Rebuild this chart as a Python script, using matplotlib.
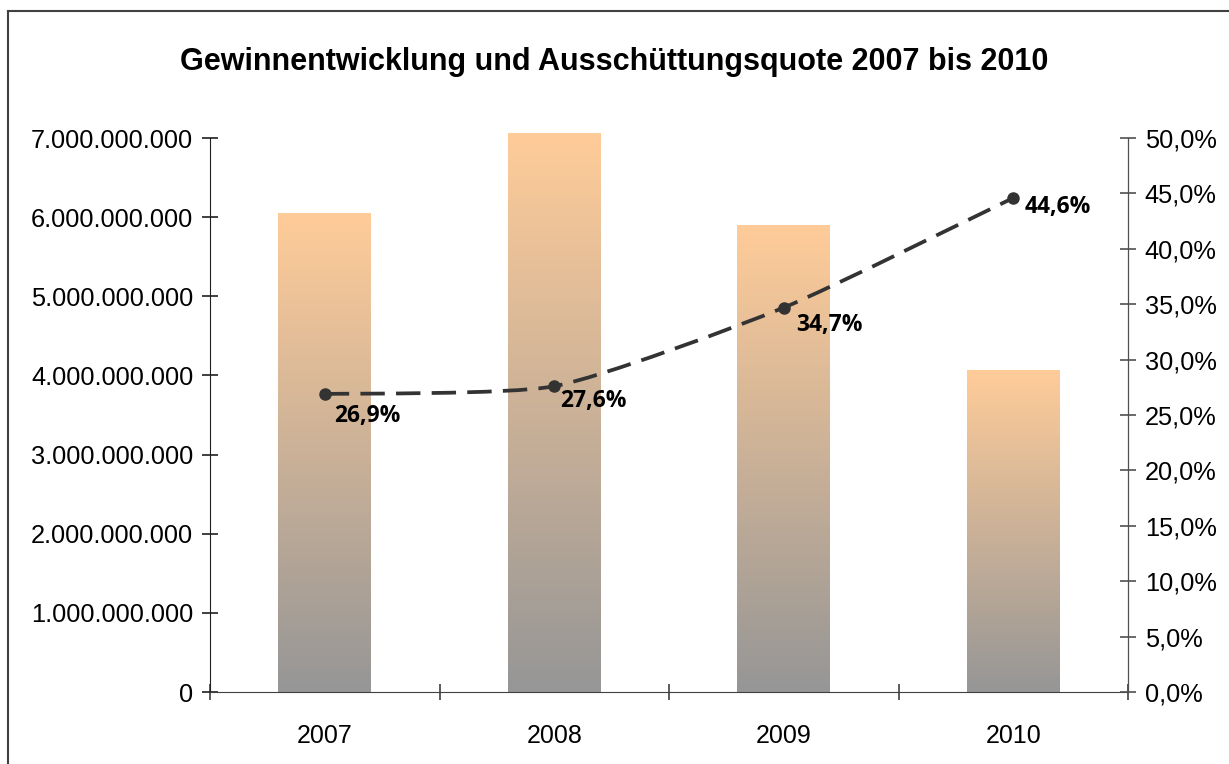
import matplotlib.pyplot as plt
import numpy as np
from matplotlib.path import Path
from matplotlib.patches import PathPatch
from matplotlib.lines import Line2D
from matplotlib.ticker import FuncFormatter

# Daten
jahre = ["2007", "2008", "2009", "2010"]
gewinn = [6.05e9, 7.06e9, 5.89e9, 4.06e9]
quote = [26.9, 27.6, 34.7, 44.6]
quote_labels = ["26,9%", "27,6%", "34,7%", "44,6%"]

plt.rcParams['font.family'] = ['Liberation Sans', 'DejaVu Sans']

fig = plt.figure(figsize=(12.29, 7.64), dpi=100)
ax = fig.add_axes([0.1709, 0.0942, 0.7470, 0.7251])
ax2 = ax.twinx()

x = np.arange(len(jahre))
bar_w = 0.405

# Balken mit Farbverlauf (unten grau, oben pfirsich)
top_col = np.array([255, 204, 153]) / 255
bot_col = np.array([150, 150, 150]) / 255
grad = np.linspace(0, 1, 256)[:, None]
grad_img = bot_col[None, None, :] * (1 - grad[..., None]) + top_col[None, None, :] * grad[..., None]

bars = ax.bar(x, gewinn, width=bar_w, color='none', edgecolor='none', clip_on=False)
for b in bars:
    x0, w, h = b.get_x(), b.get_width(), b.get_height()
    im = ax.imshow(grad_img, extent=[x0, x0 + w, 0, h], origin='lower',
                   aspect='auto', zorder=2, clip_on=False)
    im.set_clip_path(b)

ax.set_xlim(-0.5, 3.5)
ax.set_ylim(0, 7e9)
ax.set_yticks(np.arange(0, 7.01e9, 1e9))
ax.yaxis.set_major_formatter(FuncFormatter(lambda v, p: f"{int(round(v)):,}".replace(",", ".")))
ax.set_xticks(x)
ax.set_xticklabels(jahre)
ax.set_xticks([-0.5, 0.5, 1.5, 2.5, 3.5], minor=True)
ax.tick_params(axis='x', which='major', length=0, pad=23, labelsize=18)
ax.tick_params(axis='x', which='minor', length=12, direction='inout', color='#404040', width=1.2)
ax.tick_params(axis='y', length=12, direction='inout', labelsize=18.3, pad=6, color='#202020', width=1.2)

# Quote auf zweiter Achse, leicht geglaettete Linie
ax2.set_ylim(0, 50)
ax2.set_yticks(np.arange(0, 50.1, 5))
ax2.yaxis.set_major_formatter(FuncFormatter(lambda v, p: f"{v:.1f}%".replace(".", ",")))
ax2.tick_params(axis='y', length=12, direction='inout', labelsize=18.3, pad=6, color='#505050', width=1.2)

pts = np.column_stack([x, quote]).astype(float)
verts = [pts[0]]
codes = [Path.MOVETO]
n = len(pts)
k = 1 / 10
for i in range(n - 1):
    p_prev = pts[max(i - 1, 0)]
    p_next2 = pts[min(i + 2, n - 1)]
    c1 = pts[i] + (pts[i + 1] - p_prev) * k
    c2 = pts[i + 1] - (p_next2 - pts[i]) * k
    verts += [c1, c2, pts[i + 1]]
    codes += [Path.CURVE4] * 3
ax2.add_patch(PathPatch(Path(verts, codes), fill=False, edgecolor='#333333',
                        linewidth=2.7, linestyle=(0, (6.5, 3)), zorder=3, capstyle='butt'))
ax2.plot(x, quote, linestyle='none', marker='o', markersize=8, color='#333333', zorder=4)

offsets = [(7, -7), (4, -2), (9, -4), (8, 2)]
for xi, q, lab, off in zip(x, quote, quote_labels, offsets):
    ax2.annotate(lab, (xi, q), xytext=off, textcoords='offset points',
                 ha='left', va='top', fontsize=16.5, fontweight='bold',
                 family=['Open Sans', 'DejaVu Sans'], color='black')

for a in (ax, ax2):
    a.spines['top'].set_visible(False)
ax.spines['left'].set_color('#202020')
ax.spines['bottom'].set_color('#404040')
ax2.spines['right'].set_color('#505050')
ax2.spines['left'].set_visible(False)
ax2.spines['bottom'].set_visible(False)
ax.set_zorder(1)
ax2.set_zorder(2)
ax2.patch.set_visible(False)

fig.text(0.5, 0.919, "Gewinnentwicklung und Ausschüttungsquote 2007 bis 2010",
         ha='center', va='center', fontsize=22, fontweight='bold')

# Rahmen
fig.add_artist(Line2D([8 / 1229, 8 / 1229], [0, 1 - 11 / 764], transform=fig.transFigure,
                      color='#404040', linewidth=1.5))
fig.add_artist(Line2D([8 / 1229, 1], [1 - 11 / 764, 1 - 11 / 764], transform=fig.transFigure,
                      color='#404040', linewidth=1.5))

fig.savefig('out.png', dpi=100)
